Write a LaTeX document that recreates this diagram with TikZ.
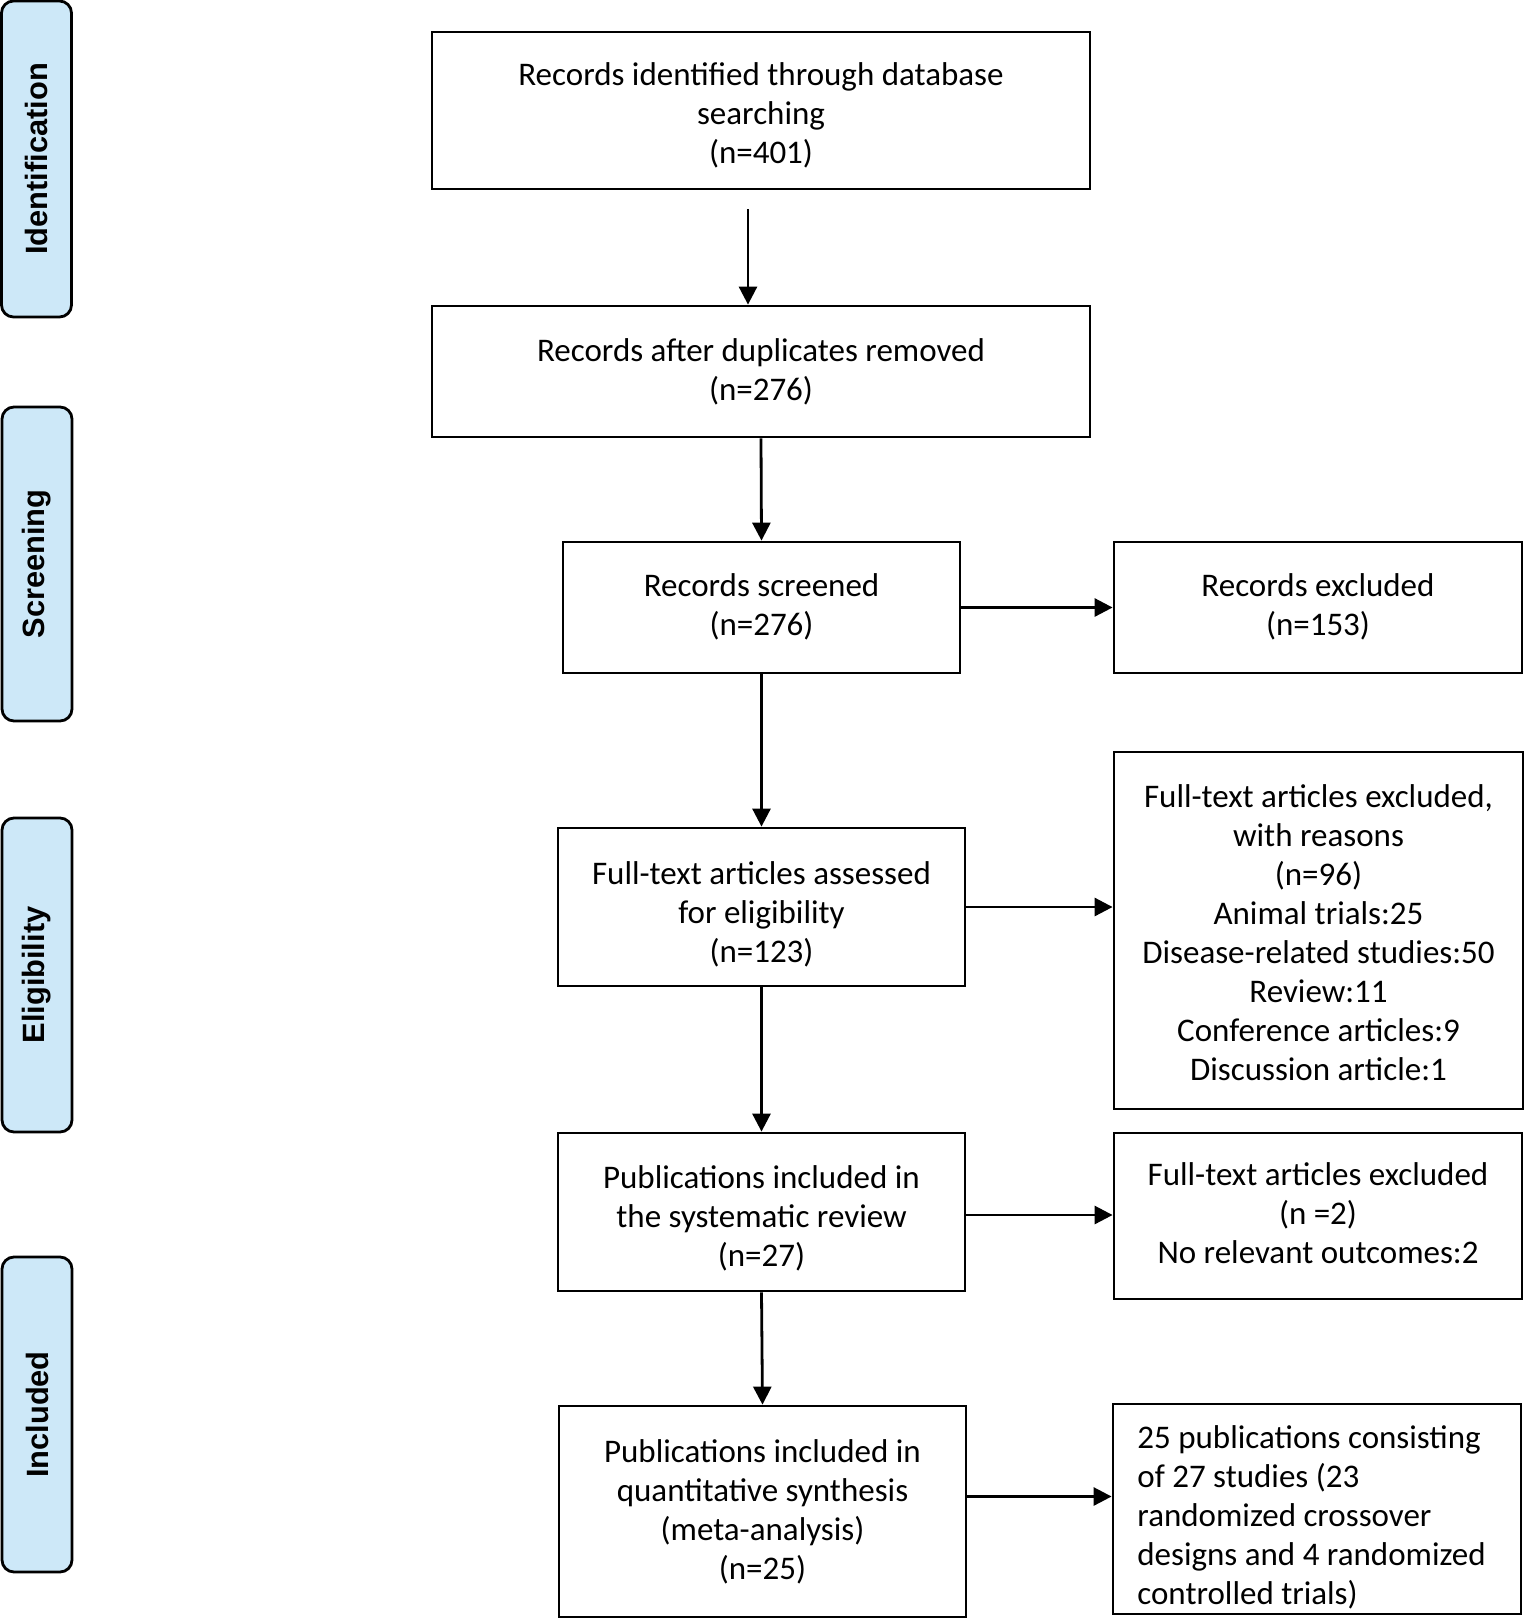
\documentclass[tikz,border=0pt]{standalone}
\usepackage{fontspec}
\setmainfont{Carlito}
\newfontfamily\sidefont{Liberation Sans}
\usetikzlibrary{arrows.meta,calc}
\definecolor{sideblue}{RGB}{205,232,248}
\begin{document}
\begin{tikzpicture}[x=0.5pt,y=-0.5pt,
  box/.style={draw,line width=1.4pt,inner sep=0pt},
  lbl/.style={align=center,inner sep=0pt,font=\fontsize{16.5}{19.5}\selectfont},
  sidebox/.style={draw,line width=1.4pt,fill=sideblue,rounded corners=6pt,
    rotate=90,minimum height=35pt,inner sep=0pt,
    font=\sidefont\bfseries\fontsize{15.4}{18}\selectfont},
  arr/.style={line width=1.4pt,-{Triangle[length=9pt,width=9pt]}}]
\useasboundingbox (0,0) rectangle (1524,1619);
% side labels
\node[sidebox,minimum width=158pt] (sid) at (36.5,159) {Identification};
\node[sidebox,minimum width=157pt] (sscr) at (37,564) {Screening};
\node[sidebox,minimum width=157pt] (selig) at (37,975) {Eligibility};
\node[sidebox,minimum width=157.5pt] (sinc) at (37,1414.5) {Included};
% main boxes
\node[box,minimum width=329pt,minimum height=78.5pt,
  label={[lbl,yshift=-2.5pt]center:Records identified through database\\searching\\(n=401)}] (b1) at (761,110.5) {};
\node[box,minimum width=329pt,minimum height=65.5pt,
  label={[lbl]center:Records after duplicates removed\\(n=276)}] (b2) at (761,371.5) {};
\node[box,minimum width=198.5pt,minimum height=65.5pt,
  label={[lbl,yshift=0.5pt]center:Records screened\\(n=276)}] (scr) at (761.5,607.5) {};
\node[box,minimum width=204pt,minimum height=65.5pt,
  label={[lbl,yshift=0.5pt]center:Records excluded\\(n=153)}] (exc1) at (1318,607.5) {};
\node[box,minimum width=203.5pt,minimum height=79pt,
  label={[lbl,yshift=-3.5pt]center:Full-text articles assessed\\for eligibility\\(n=123)}] (ft) at (761.5,907) {};
\node[box,minimum width=204.5pt,minimum height=178.5pt,
  label={[lbl,yshift=-1pt]center:Full-text articles excluded,\\with reasons\\(n=96)\\Animal trials:25\\Disease-related studies:50\\Review:11\\Conference articles:9\\Discussion article:1}] (exc2) at (1318.5,930.5) {};
\node[box,minimum width=203.5pt,minimum height=79pt,
  label={[lbl,yshift=-3pt]center:Publications included in\\the systematic review\\(n=27)}] (sr) at (761.5,1212) {};
\node[box,minimum width=204pt,minimum height=83pt,
  label={[lbl,yshift=1.5pt]center:Full-text articles excluded\\(n =2)\\No relevant outcomes:2}] (exc3) at (1318,1216) {};
\node[box,minimum width=203.5pt,minimum height=105.5pt,
  label={[lbl]center:Publications included in\\quantitative synthesis\\(meta-analysis)\\(n=25)}] (qs) at (762.5,1511.5) {};
\node[box,minimum width=204pt,minimum height=105pt] (fin) at (1317,1509) {};
\node[lbl,align=left,anchor=west] (fintext) at (1137,1517)
  {25 publications consisting\\of 27 studies (23\\randomized crossover\\designs and 4 randomized\\controlled trials)};
% arrows
\coordinate (a1) at (748,209);
\draw[arr] (a1) -- (a1 |- b2.north);
\draw[arr] (b2.south) -- (scr.north);
\draw[arr] (scr.south) -- (ft.north);
\draw[arr] (ft.south) -- (sr.north);
\draw[arr] (sr.south) -- (qs.north);
\draw[arr] (scr.east) -- (exc1.west);
\draw[arr] (ft.east) -- (ft.east -| exc2.west);
\draw[arr] ([yshift=-1.5pt]sr.east) -- ([yshift=-1.5pt]sr.east -| exc3.west);
\draw[arr] ([yshift=7.5pt]qs.east) -- ([yshift=7.5pt]qs.east -| fin.west);
\end{tikzpicture}
\end{document}
